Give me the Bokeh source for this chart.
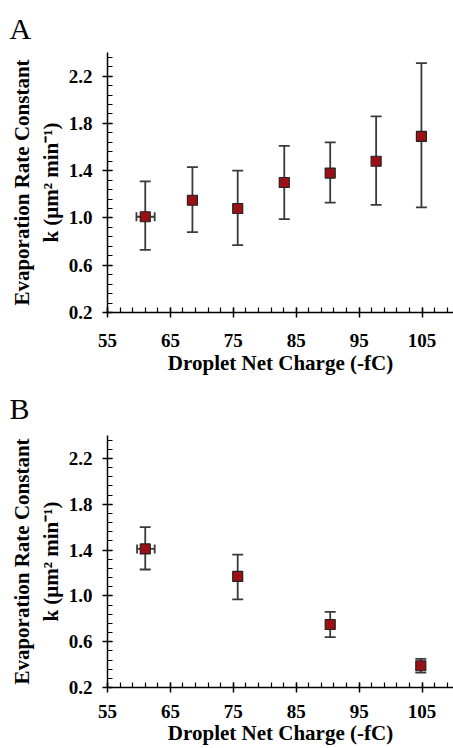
from bokeh.plotting import figure
from bokeh.layouts import column
from bokeh.models import (ColumnDataSource, Whisker, TeeHead, Title, FixedTicker,
                          CustomJSTickFormatter)
from bokeh.embed import file_html
from bokeh.resources import INLINE

# Panel A data
a_charge = [61.0, 68.5, 75.7, 83.1, 90.4, 97.7, 104.9]
a_k = [1.01, 1.15, 1.08, 1.30, 1.38, 1.48, 1.69]
a_k_hi = [1.31, 1.43, 1.40, 1.61, 1.64, 1.86, 2.31]
a_k_lo = [0.73, 0.88, 0.77, 0.99, 1.13, 1.11, 1.09]
a_x_lo = [59.6, 68.5, 75.7, 83.1, 90.4, 97.7, 104.9]
a_x_hi = [62.5, 68.5, 75.7, 83.1, 90.4, 97.7, 104.9]

# Panel B data
b_charge = [61.0, 75.7, 90.4, 104.8]
b_k = [1.41, 1.17, 0.75, 0.39]
b_k_hi = [1.60, 1.36, 0.86, 0.45]
b_k_lo = [1.23, 0.97, 0.64, 0.33]
b_x_lo = [59.7, 75.7, 90.4, 104.8]
b_x_hi = [62.5, 75.7, 90.4, 104.8]

x_ticks = [55, 65, 75, 85, 95, 105]
y_ticks = [0.2, 0.6, 1.0, 1.4, 1.8, 2.2]

FONT = "Liberation Serif"
BAR = "#3a3a3a"
FILL = "#9b1015"


def make_panel(letter, xs, ys, yhi, ylo, xlo, xhi, height, top, bottom, tstand,
               tick_stand, lab_stand):
    p = figure(width=453, height=height, output_backend="svg", toolbar_location=None,
               x_range=(55, 110), y_range=(0.2, 2.4),
               min_border_left=107, min_border_right=0,
               min_border_top=top, min_border_bottom=bottom)
    p.title = Title(text=letter, align="left", offset=-98,
                    text_font=FONT, text_font_size="30px", text_font_style="normal",
                    text_color="black", standoff=tstand)
    p.grid.visible = False
    p.outline_line_color = None
    p.background_fill_color = "white"
    p.border_fill_color = "white"

    for ax in (p.xaxis[0], p.yaxis[0]):
        ax.axis_line_color = "black"
        ax.axis_line_width = 1.5
        ax.major_tick_line_color = "black"
        ax.major_tick_line_width = 1.5
        ax.minor_tick_line_color = "black"
        ax.minor_tick_line_width = 1.2
        ax.major_tick_in = 5
        ax.major_tick_out = 5
        ax.minor_tick_in = 5
        ax.minor_tick_out = 0
        ax.major_label_text_font = FONT
        ax.major_label_text_font_style = "bold"
        ax.major_label_text_font_size = "19px"
        ax.major_label_text_color = "black"
        ax.axis_label_text_font = FONT
        ax.axis_label_text_font_style = "bold"
        ax.axis_label_text_color = "black"

    p.xaxis.axis_label_text_font_size = "21px"
    p.yaxis.axis_label_text_font_size = "21px"
    p.xaxis.ticker = FixedTicker(ticks=x_ticks, minor_ticks=list(range(55, 111, 2)))
    p.yaxis.ticker = FixedTicker(ticks=y_ticks,
                                 minor_ticks=[round(0.2 + 0.08 * i, 2) for i in range(28)])
    p.yaxis.formatter = CustomJSTickFormatter(code="return tick.toFixed(1);")
    p.xaxis.major_label_standoff = tick_stand
    p.yaxis.major_label_standoff = 10
    p.xaxis.axis_label = "Droplet Net Charge (-fC)"
    p.yaxis.axis_label = "Evaporation Rate Constant\nk (\u03bcm\u00b2 min\u207b\u00b9)"
    p.xaxis.axis_label_standoff = lab_stand
    p.yaxis.axis_label_standoff = 3

    src = ColumnDataSource(dict(x=xs, y=ys, yhi=yhi, ylo=ylo, xlo=xlo, xhi=xhi))
    wy = Whisker(base="x", upper="yhi", lower="ylo", source=src,
                 line_color=BAR, line_width=1.8,
                 upper_head=TeeHead(size=11, line_color=BAR, line_width=1.8),
                 lower_head=TeeHead(size=11, line_color=BAR, line_width=1.8))
    wx = Whisker(base="y", upper="xhi", lower="xlo", dimension="width", source=src,
                 line_color=BAR, line_width=1.8,
                 upper_head=TeeHead(size=9, line_color=BAR, line_width=1.8),
                 lower_head=TeeHead(size=9, line_color=BAR, line_width=1.8))
    p.add_layout(wy)
    p.add_layout(wx)
    p.scatter("x", "y", source=src, marker="square", size=10,
              fill_color=FILL, line_color="#222222", line_width=1.2)
    return p


pa = make_panel("A", a_charge, a_k, a_k_hi, a_k_lo, a_x_lo, a_x_hi,
                378, 52, 66, 15, 16, 1)
pb = make_panel("B", b_charge, b_k, b_k_hi, b_k_lo, b_x_lo, b_x_hi,
                370, 57, 61, 22, 12, 0)

layout = column(pa, pb, spacing=0)
open("out.html", "w").write(file_html(layout, INLINE))
